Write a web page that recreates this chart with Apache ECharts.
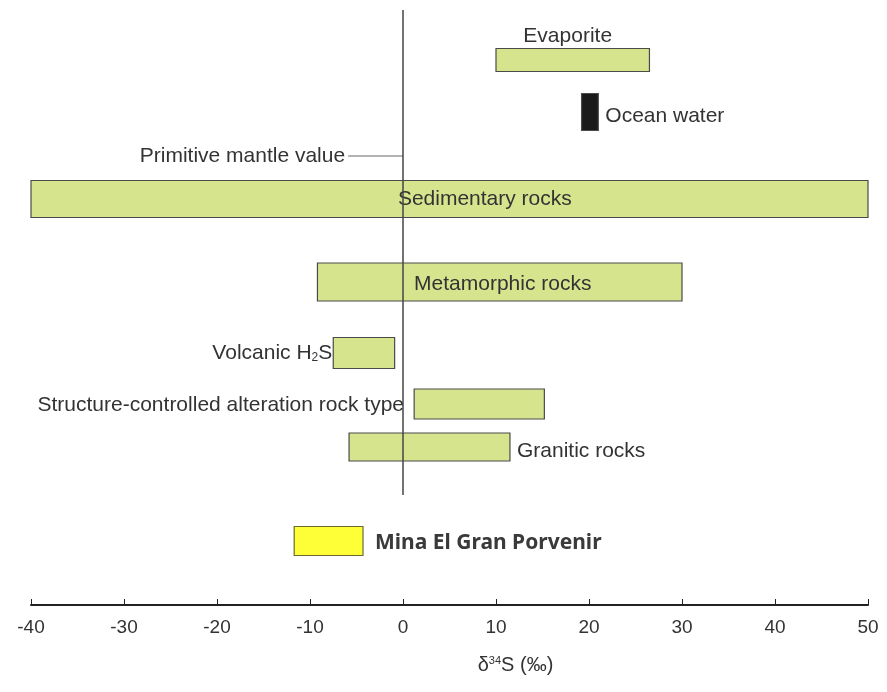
<!DOCTYPE html>
<html>
<head>
<meta charset="utf-8">
<script src="https://cdn.jsdelivr.net/npm/echarts@6/dist/echarts.min.js"></script>
<style>
  html, body { margin: 0; padding: 0; background: #fff; }
  #chart { width: 887px; height: 692px; }
</style>
</head>
<body>
<div id="chart"></div>
<script>
// δ34S ranges (‰) of the main sulfur reservoirs
const categories = [
  'Evaporite',
  'Ocean water',
  'Sedimentary rocks',
  'Metamorphic rocks',
  'Volcanic H2S',
  'Structure-controlled alteration rock type',
  'Granitic rocks',
  'Mina El Gran Porvenir'
];
const rangeLow  = [10,   19.2, -40, -9.2, -7.5, 1.2,  -5.8, -11.7];
const rangeHigh = [26.5, 21,   50,  30,   -0.9, 15.2, 11.5, -4.3];
const primitiveMantle = 0;
const xTicks = [-40, -30, -20, -10, 0, 10, 20, 30, 40, 50];

// Row layout (vertical placement in pixels from top, bar thickness, label placement)
const rowY = [60, 112, 199, 282, 353, 404, 447, 541];
const rowH = [23, 37, 37, 38, 31, 30, 28, 29];
const rowLabel = ['top', 'right', 'inside-shift', 'inside', 'left', 'left-axis', 'right', 'right-bold'];
const rowFill = ['#d6e48e', '#1a1a1a', '#d6e48e', '#d6e48e', '#d6e48e', '#d6e48e', '#d6e48e', '#ffff38'];

const FONT = '"Liberation Sans", Arial, sans-serif';
const TXT = '#333';
const LABEL_SIZE = 21;

const chart = echarts.init(document.getElementById('chart'));

function labelText(i) {
  if (i === 4) return 'Volcanic H{sub|2}S';
  return categories[i];
}

const option = {
  animation: false,
  grid: { left: 31, right: 19, top: 10, bottom: 87 },
  xAxis: {
    type: 'value',
    min: -40, max: 50, interval: 10,
    axisLine: { show: true, onZero: false, lineStyle: { color: '#222', width: 2 } },
    axisTick: { show: true, inside: true, length: 6, lineStyle: { color: '#222', width: 1 } },
    axisLabel: { color: TXT, fontFamily: FONT, fontSize: 19, margin: 13,
      formatter: v => xTicks.includes(v) ? String(v) : '' },
    splitLine: { show: false },
    name: 'δ{sup|34}S (‰)',
    nameLocation: 'middle',
    nameGap: 50,
    nameTextStyle: {
      color: TXT, fontFamily: FONT, fontSize: 20, padding: [0, 0, 0, 132],
      rich: { sup: { fontSize: 11, verticalAlign: 'top', padding: [0, 0, 9, 0], color: TXT, fontFamily: FONT } }
    }
  },
  yAxis: { type: 'value', min: 10, max: 605, inverse: true, show: false },
  series: [
    {
      // zero reference line
      type: 'line',
      data: [[primitiveMantle, 10], [primitiveMantle, 495]],
      symbol: 'none',
      lineStyle: { color: '#444', width: 1.5 },
      z: 5, silent: true
    },
    {
      // primitive mantle value leader
      type: 'line',
      data: [
        { value: [-5.9, 156], label: { show: true, position: 'left', distance: 3,
          formatter: 'Primitive mantle value', color: TXT, fontFamily: FONT, fontSize: LABEL_SIZE } },
        [primitiveMantle, 156]
      ],
      symbol: 'circle', symbolSize: 0.01,
      lineStyle: { color: '#666', width: 1 },
      silent: true
    },
    {
      type: 'custom',
      data: categories.map((c, i) => [rangeLow[i], rangeHigh[i], i]),
      z: 3,
      renderItem: function (params, api) {
        const i = api.value(2);
        const p0 = api.coord([api.value(0), rowY[i]]);
        const p1 = api.coord([api.value(1), rowY[i]]);
        const h = rowH[i];
        const x0 = p0[0], x1 = p1[0], yc = p0[1];
        const isMina = i === 7;
        const children = [{
          type: 'rect',
          shape: { x: x0, y: yc - h / 2, width: x1 - x0, height: h },
          style: { fill: rowFill[i], stroke: isMina ? '#6b6b30' : '#4a4a4a', lineWidth: 1.2 },
          z2: 1
        }];
        const base = { fill: TXT, font: LABEL_SIZE + 'px ' + FONT, text: labelText(i),
          rich: { sub: { fontSize: 12, verticalAlign: 'bottom', padding: [9, 0, 0, 0], fill: TXT, fontFamily: FONT } } };
        let t;
        switch (rowLabel[i]) {
          case 'top':
            t = { x: (x0 + x1) / 2 - 5, y: yc - h / 2 - 2, align: 'center', verticalAlign: 'bottom' };
            break;
          case 'right':
            t = { x: x1 + 7, y: yc + 4, align: 'left', verticalAlign: 'middle' };
            break;
          case 'inside-shift':
            t = { x: api.coord([8.8, 0])[0], y: yc, align: 'center', verticalAlign: 'middle' };
            break;
          case 'inside':
            t = { x: (x0 + x1) / 2 + 3, y: yc + 2, align: 'center', verticalAlign: 'middle' };
            break;
          case 'left':
            t = { x: x0 - 1, y: yc, align: 'right', verticalAlign: 'middle' };
            break;
          case 'left-axis':
            t = { x: api.coord([primitiveMantle, 0])[0] + 1, y: yc + 1, align: 'right', verticalAlign: 'middle' };
            break;
          case 'right-bold':
            t = { x: x1 + 12, y: yc + 2, align: 'left', verticalAlign: 'middle' };
            base.font = 'bold 21px "Noto Sans", "Open Sans", sans-serif';
            base.fill = '#3a3a3a';
            break;
        }
        children.push({ type: 'text', style: Object.assign(base, t), z2: 10 });
        return { type: 'group', children: children };
      }
    }
  ]
};

chart.setOption(option);
</script>
</body>
</html>
